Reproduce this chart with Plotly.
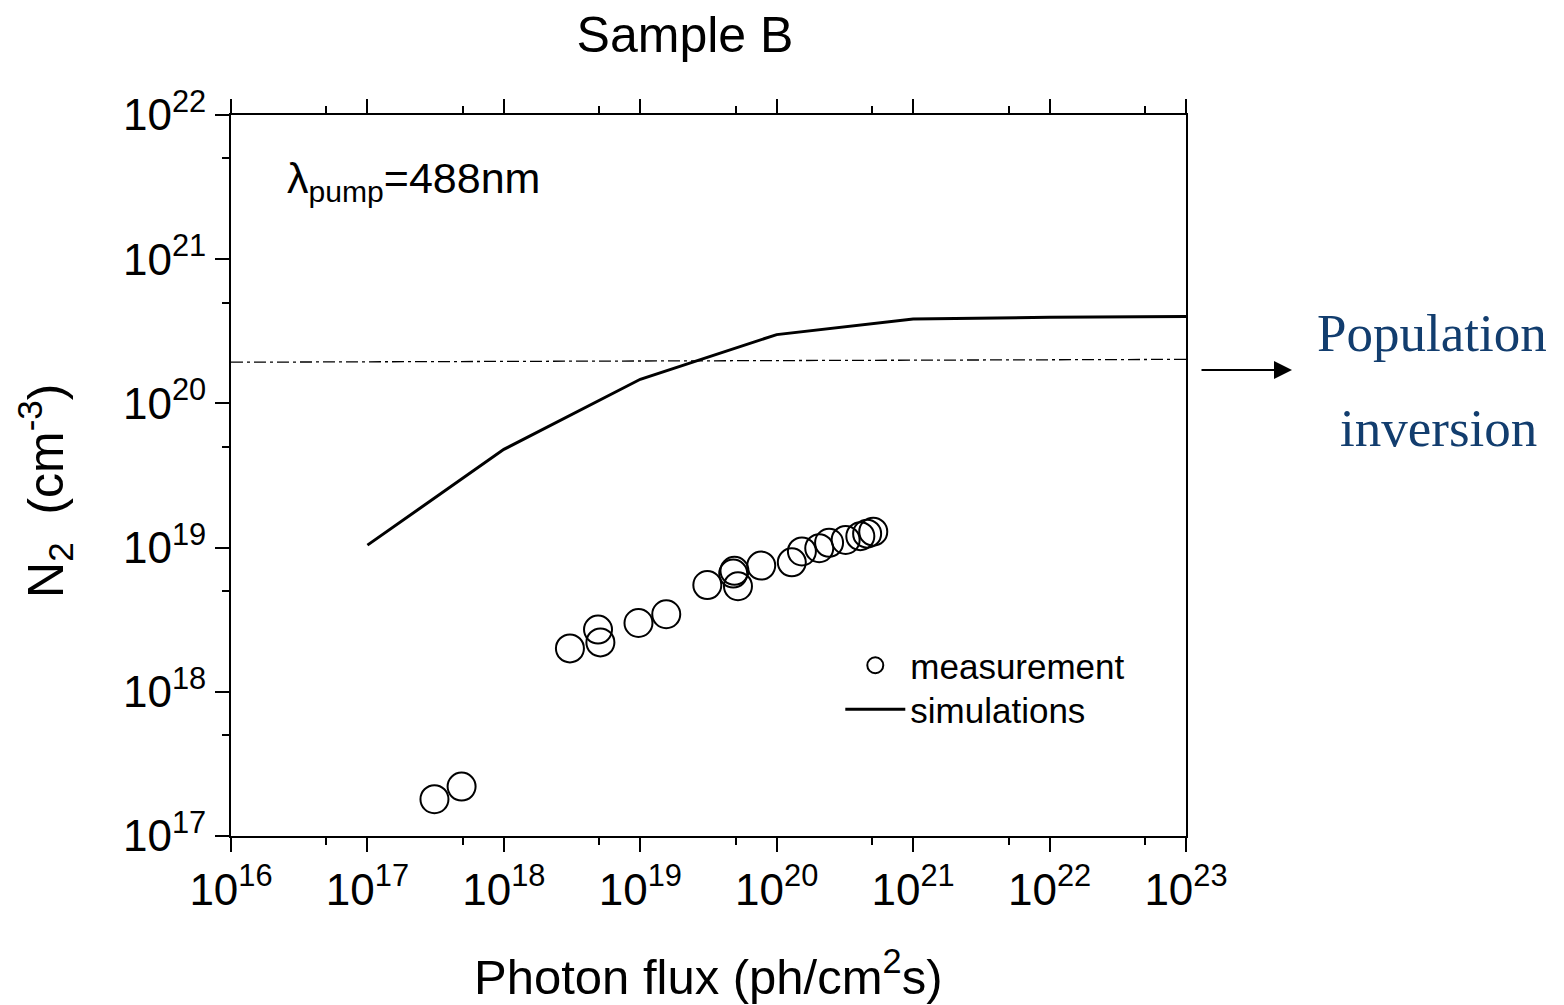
import plotly.graph_objects as go

# Measurement data (photon flux, N2)
meas_flux = [3.1e17, 4.9e17, 3.05e18, 4.9e18, 5.1e18, 9.7e18, 1.55e19, 3.1e19,
             4.9e19, 4.8e19, 5.2e19, 7.7e19, 1.29e20, 1.53e20, 2.05e20, 2.42e20,
             3.2e20, 4.1e20, 4.6e20, 5.1e20]
meas_n2 = [1.8e17, 2.2e17, 2.0e18, 2.7e18, 2.2e18, 3.0e18, 3.45e18, 5.5e18,
           6.9e18, 6.6e18, 5.4e18, 7.5e18, 7.9e18, 9.4e18, 9.9e18, 1.08e19,
           1.13e19, 1.2e19, 1.25e19, 1.29e19]

# Simulation data
sim_flux = [1e17, 1e18, 1e19, 1e20, 1e21, 1e22, 1e23]
sim_n2 = [1.04e19, 4.8e19, 1.47e20, 3.0e20, 3.85e20, 3.95e20, 4.0e20]

# Population inversion threshold line
inv_flux = [1e16, 1e23]
inv_n2 = [1.93e20, 2.02e20]

x_tickvals = [1e16, 1e17, 1e18, 1e19, 1e20, 1e21, 1e22, 1e23]
x_ticktext = ["10<sup>%d</sup>" % e for e in range(16, 24)]
x_minor = [5e16, 5e17, 5e18, 5e19, 5e20, 5e21, 5e22]
y_tickvals = [1e17, 1e18, 1e19, 1e20, 1e21, 1e22]
y_ticktext = ["10<sup>%d</sup>" % e for e in range(17, 23)]
y_minor = [5e17, 5e18, 5e19, 5e20, 5e21]

FONT = "Arial, 'Liberation Sans', sans-serif"
SERIF = "'Times New Roman', 'Liberation Serif', serif"

fig = go.Figure()
fig.add_trace(go.Scatter(
    x=inv_flux, y=inv_n2, mode="lines", showlegend=False,
    line=dict(color="black", width=1.3, dash="12px,4px,3px,4px"),
))
fig.add_trace(go.Scatter(
    x=meas_flux, y=meas_n2, mode="markers", name="measurement", legend="legend",
    marker=dict(symbol="circle-open", size=28, color="black", line=dict(width=2)),
))
fig.add_trace(go.Scatter(
    x=sim_flux, y=sim_n2, mode="lines", name="simulations", legend="legend2",
    line=dict(color="black", width=3),
))

axis_common = dict(
    type="log", showgrid=False, zeroline=False,
    showline=True, linewidth=2, linecolor="black",
    ticks="outside", ticklen=14, tickwidth=2, tickcolor="black",
    tickfont=dict(family=FONT, size=44, color="black"),
)

fig.update_xaxes(
    **axis_common,
    mirror="ticks",
    range=[16, 23],
    tickvals=x_tickvals, ticktext=x_ticktext,
    minor=dict(tickvals=x_minor, ticks="outside", ticklen=7, tickwidth=2, tickcolor="black"),
)
fig.update_yaxes(
    **axis_common,
    mirror=True,
    range=[17, 22],
    tickvals=y_tickvals, ticktext=y_ticktext,
    minor=dict(tickvals=y_minor, ticks="outside", ticklen=7, tickwidth=2, tickcolor="black"),
)

legend_font = dict(family=FONT, size=35, color="black")
fig.update_layout(
    width=1548, height=997,
    margin=dict(l=223, r=370, t=107, b=169, autoexpand=False),
    paper_bgcolor="white", plot_bgcolor="white",
    title=dict(text="Sample B", x=0.4754, xref="paper", xanchor="center",
               y=1 - 26 / 997, yref="container", yanchor="middle",
               font=dict(family=FONT, size=50, color="black")),
    legend=dict(x=0.638, y=0.2774, xanchor="left", yanchor="top",
                bgcolor="rgba(0,0,0,0)", font=legend_font, itemwidth=60),
    legend2=dict(x=0.638, y=0.2164, xanchor="left", yanchor="top",
                 bgcolor="rgba(0,0,0,0)", font=legend_font, itemwidth=60),
    showlegend=True,
)

# x-axis title
fig.add_annotation(
    xref="paper", yref="paper", x=0.499, y=-0.190, xanchor="center", yanchor="middle",
    text="Photon flux (ph/cm<sup>2</sup>s)", showarrow=False,
    font=dict(family=FONT, size=49, color="black"),
)
# y-axis title as rotated annotation
fig.add_annotation(
    xref="paper", yref="paper", x=-0.1948, y=0.4785, xanchor="center", yanchor="middle",
    text="N<sub>2</sub>  (cm<sup>-3</sup>)", textangle=-90, showarrow=False,
    font=dict(family=FONT, size=50, color="black"),
)
fig.add_annotation(
    xref="paper", yref="paper", x=0.057, y=0.909, xanchor="left", yanchor="middle",
    text="λ<sub>pump</sub>=488nm", showarrow=False,
    font=dict(family=FONT, size=43, color="black"),
)
fig.add_annotation(
    xref="paper", yref="paper", x=1.111, y=0.6463, ax=-92, ay=0,
    axref="pixel", ayref="pixel", text="", showarrow=True,
    arrowhead=2, arrowsize=1.8, arrowwidth=2, arrowcolor="black",
)
fig.add_annotation(
    xref="paper", yref="paper", x=1.2576, y=0.6976, xanchor="center", yanchor="middle",
    text="Population", showarrow=False,
    font=dict(family=SERIF, size=53, color="#123d6e"),
)
fig.add_annotation(
    xref="paper", yref="paper", x=1.2639, y=0.5659, xanchor="center", yanchor="middle",
    text="inversion", showarrow=False,
    font=dict(family=SERIF, size=53, color="#123d6e"),
)

fig.write_html("out.html")
